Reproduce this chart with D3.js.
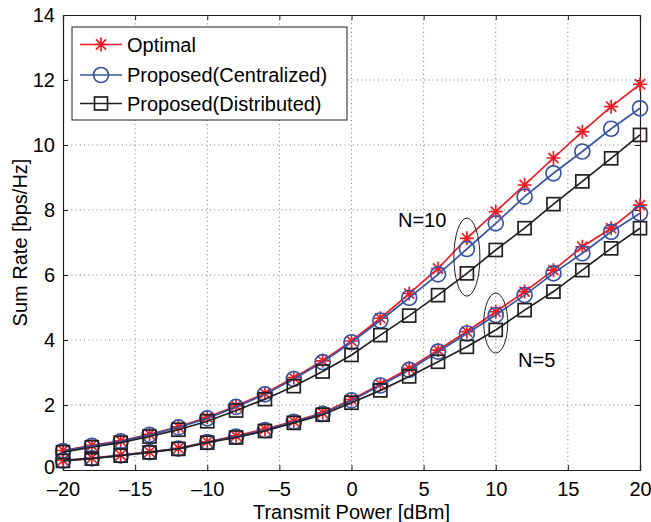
<!DOCTYPE html>
<html><head><meta charset="utf-8">
<script src="https://cdn.jsdelivr.net/npm/d3@7"></script>
<style>
body{margin:0;background:#fff;}
svg{display:block;font-family:"Liberation Sans",Arial,Helvetica,sans-serif;}
</style></head>
<body>
<svg id="chart" width="651" height="522"></svg>
<script>
const xValues = [-20,-18,-16,-14,-12,-10,-8,-6,-4,-2,0,2,4,6,8,10,12,14,16,18,20];
const n10Optimal     = [0.60,0.76,0.90,1.10,1.33,1.62,1.97,2.36,2.84,3.36,3.97,4.67,5.43,6.20,7.13,7.95,8.77,9.60,10.41,11.18,11.87];
const n10Centralized = [0.58,0.74,0.88,1.08,1.31,1.59,1.94,2.33,2.80,3.32,3.93,4.60,5.30,6.02,6.80,7.59,8.41,9.13,9.80,10.50,11.13];
const n10Distributed = [0.55,0.70,0.84,1.03,1.24,1.50,1.83,2.18,2.58,3.03,3.54,4.15,4.75,5.38,6.05,6.77,7.44,8.18,8.88,9.59,10.31];
const n5Optimal      = [0.30,0.37,0.46,0.56,0.67,0.87,1.05,1.26,1.50,1.76,2.17,2.64,3.13,3.69,4.26,4.87,5.49,6.15,6.87,7.44,8.15];
const n5Centralized  = [0.29,0.36,0.45,0.55,0.66,0.86,1.03,1.23,1.48,1.73,2.14,2.60,3.08,3.64,4.20,4.77,5.38,6.05,6.67,7.33,7.90];
const n5Distributed  = [0.28,0.35,0.44,0.54,0.65,0.84,1.00,1.20,1.45,1.70,2.07,2.45,2.88,3.33,3.79,4.31,4.92,5.49,6.15,6.82,7.44];
const xTicks = [-20,-15,-10,-5,0,5,10,15,20];
const yTicks = [0,2,4,6,8,10,12,14];
const seriesNames = ["Optimal","Proposed(Centralized)","Proposed(Distributed)"];
const xLabel = "Transmit Power [dBm]";
const yLabel = "Sum Rate [bps/Hz]";
const annotations = ["N=10", "N=5"];

const RED="#ed1c24", BLUE="#3a54a4", BLACK="#231f20";
const svg = d3.select("#chart");
const L=63, R=640, T=15, B=470;
const x = d3.scaleLinear().domain([-20,20]).range([L,R]);
const y = d3.scaleLinear().domain([0,14]).range([B,T]);
const FS = 20;

// grid
const grid = svg.append("g");
grid.selectAll("line.gx").data(xTicks.slice(1,-1)).join("line")
  .attr("x1",d=>x(d)).attr("x2",d=>x(d)).attr("y1",T).attr("y2",B)
  .attr("stroke","#555").attr("stroke-width",0.8).attr("stroke-dasharray","1,3.2");
grid.selectAll("line.gy").data(yTicks.slice(1,-1)).join("line")
  .attr("y1",d=>y(d)).attr("y2",d=>y(d)).attr("x1",L).attr("x2",R)
  .attr("stroke","#555").attr("stroke-width",0.8).attr("stroke-dasharray","1,3.2");

// axes
const fmt = d => d<0 ? "\u2013"+Math.abs(d) : String(d);
const ax = svg.append("g").attr("transform",`translate(0,${B})`)
  .call(d3.axisBottom(x).tickValues(xTicks).tickSize(-5).tickPadding(12).tickFormat(fmt));
const axT = svg.append("g").attr("transform",`translate(0,${T})`)
  .call(d3.axisTop(x).tickValues(xTicks).tickSize(-5).tickFormat(""));
const ay = svg.append("g").attr("transform",`translate(${L},0)`)
  .call(d3.axisLeft(y).tickValues(yTicks).tickSize(-5).tickPadding(8).tickFormat(fmt));
const ayR = svg.append("g").attr("transform",`translate(${R},0)`)
  .call(d3.axisRight(y).tickValues(yTicks).tickSize(-5).tickFormat(""));
[ax,axT,ay,ayR].forEach(g=>{
  g.select(".domain").attr("stroke",BLACK).attr("stroke-width",1.2);
  g.selectAll(".tick line").attr("stroke",BLACK).attr("stroke-width",1);
  g.selectAll(".tick text").attr("font-size",FS).attr("fill","#000")
    .attr("font-family","'Liberation Sans',Arial,sans-serif");
});
ay.selectAll(".tick text").filter(d=>d===0).attr("y",-3);

// markers
function starPath(s){
  const d=s*0.72;
  return `M${-s},0L${s},0M0,${-s}L0,${s}M${-d},${-d}L${d},${d}M${-d},${d}L${d},${-d}`;
}
function drawMarker(g, type, color){
  if(type==="star") g.append("path").attr("d",starPath(7)).attr("stroke",color).attr("stroke-width",1.7).attr("fill","none");
  else if(type==="circle") g.append("circle").attr("r",7.5).attr("stroke",color).attr("stroke-width",1.7).attr("fill","none");
  else g.append("rect").attr("x",-6.5).attr("y",-6.5).attr("width",13).attr("height",13).attr("stroke",color).attr("stroke-width",1.7).attr("fill","none");
}
const line = d3.line().x((d,i)=>x(xValues[i])).y(d=>y(d));
const series = [
  {vals:n10Optimal,type:"star",color:RED},
  {vals:n5Optimal,type:"star",color:RED},
  {vals:n10Centralized,type:"circle",color:BLUE},
  {vals:n5Centralized,type:"circle",color:BLUE},
  {vals:n10Distributed,type:"square",color:BLACK},
  {vals:n5Distributed,type:"square",color:BLACK},
];
series.forEach(s=>{
  const g = svg.append("g");
  g.append("path").attr("d",line(s.vals)).attr("fill","none").attr("stroke",s.color).attr("stroke-width",1.7);
  s.vals.forEach((v,i)=>{
    const m = g.append("g").attr("transform",`translate(${x(xValues[i])},${y(v)})`);
    drawMarker(m,s.type,s.color);
  });
});

// ellipses
svg.append("ellipse").attr("cx",x(8)).attr("cy",y(6.55)).attr("rx",13).attr("ry",39)
  .attr("fill","none").attr("stroke",BLACK).attr("stroke-width",1);
svg.append("ellipse").attr("cx",x(10)).attr("cy",y(4.52)).attr("rx",12).attr("ry",30)
  .attr("fill","none").attr("stroke",BLACK).attr("stroke-width",1);
svg.append("text").attr("x",x(3.22)).attr("y",y(7.48)).attr("font-size",FS).text(annotations[0]);
svg.append("text").attr("x",x(11.55)).attr("y",y(3.17)).attr("font-size",FS).text(annotations[1]);

// legend
const lg = svg.append("g");
lg.append("rect").attr("x",72).attr("y",27).attr("width",275).attr("height",93)
  .attr("fill","#fff").attr("stroke",BLACK).attr("stroke-width",1);
const legendTypes = [["star",RED],["circle",BLUE],["square",BLACK]];
const rowY = [44.5,75,103.5];
seriesNames.forEach((nm,i)=>{
  const [t,c]=legendTypes[i];
  lg.append("line").attr("x1",80).attr("x2",122).attr("y1",rowY[i]).attr("y2",rowY[i])
    .attr("stroke",c).attr("stroke-width",1.7);
  const m = lg.append("g").attr("transform",`translate(101,${rowY[i]})`);
  drawMarker(m,t,c);
  lg.append("text").attr("x",127).attr("y",rowY[i]).attr("dy","0.36em").attr("font-size",FS).text(nm);
});

// axis labels
svg.append("text").attr("x",(L+R)/2).attr("y",519).attr("text-anchor","middle").attr("font-size",FS).text(xLabel);
svg.append("text").attr("transform",`translate(27,${(T+B)/2}) rotate(-90)`).attr("text-anchor","middle").attr("font-size",FS).text(yLabel);
</script>
</body></html>
